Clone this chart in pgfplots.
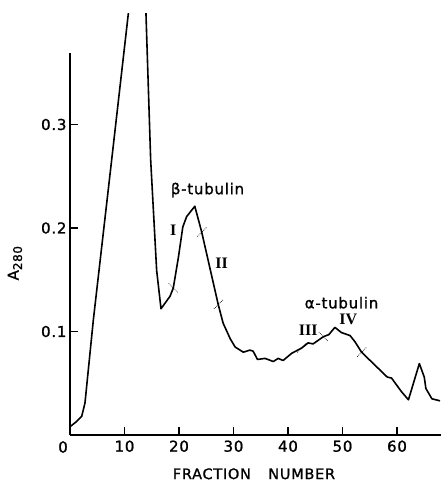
\documentclass[border=0pt]{standalone}
\usepackage{fontspec}
\setmainfont{DejaVu Sans}[LetterSpace=5, FakeBold=1.2]
\newfontfamily\numeral{Liberation Serif}
\usepackage{pgfplots}
\pgfplotsset{compat=1.18}

\pgfplotstableread{
x y
0.0 0.008
1.2 0.013
2.15 0.018
2.75 0.031
4.28 0.111
7.65 0.266
10.7 0.407
13.23 0.524
13.94 0.407
14.8 0.266
15.9 0.159
16.7 0.122
18.35 0.134
18.95 0.142
19.9 0.172
20.7 0.201
21.4 0.211
22.9 0.221
24.17 0.196
27.2 0.126
28.1 0.108
29.4 0.093
30.3 0.085
31.8 0.080
33.0 0.082
33.6 0.081
34.4 0.073
35.8 0.074
37.3 0.071
38.2 0.074
39.1 0.072
40.7 0.079
42.5 0.084
43.7 0.089
44.6 0.088
46.5 0.095
47.5 0.097
48.6 0.104
49.8 0.099
51.4 0.096
52.3 0.090
53.5 0.080
58.2 0.056
59.0 0.055
60.8 0.042
62.1 0.034
64.1 0.069
65.0 0.056
65.3 0.045
66.4 0.035
67.9 0.033
}\elution

% cut marks on the curve
\pgfplotstableread{
x y
24.17 0.196
27.2 0.126
42.5 0.084
53.5 0.080
}\cutsfwd
\pgfplotstableread{
x y
18.95 0.142
46.5 0.095
}\cutsback

\begin{document}
\begin{tikzpicture}
\begin{axis}[
    x=5.45pt, y=1035pt,
    xmin=0, xmax=68.07, ymin=0, ymax=0.407,
    enlargelimits=false,
    axis x line=bottom, axis y line=left,
    axis line style={-, line width=1.4pt},
    y axis line style={draw=none},
    xtick={10,20,...,60}, ytick={0.1,0.2,0.3},
    tick align=inside, major tick length=8pt,
    tick style={line width=1.3pt, black},
    clip mode=individual,
    scaled y ticks=false,
    yticklabel style={/pgf/number format/fixed, /pgf/number format/precision=1},
    /pgf/number format/assume math mode=true,
    ticklabel style={font=\fontsize{15}{15}\selectfont},
    xticklabel style={yshift=-2pt},
]
\addplot[black, line width=1.6pt, line join=round] table {\elution};
\addplot[only marks, mark=|, mark size=6.5pt,
    mark options={rotate=-45, densely dotted, line width=0.7pt, black}] table {\cutsfwd};
\addplot[only marks, mark=|, mark size=6.5pt,
    mark options={rotate=45, densely dotted, line width=0.7pt, black}] table {\cutsback};

\draw[line width=1.4pt] (axis cs:0,0) -- (axis cs:0,0.369);

\node[font=\fontsize{15}{15}\selectfont] at (axis cs:-1.28,-0.0116) {0};
\node[inner sep=0pt, font=\fontsize{14.5}{14.5}\selectfont] at (axis cs:33.76,-0.0375) {FRACTION\hspace{1.2em}NUMBER};
\node[rotate=90, inner sep=0pt, font=\fontsize{15}{15}\selectfont] at (axis cs:-10.1,0.166) {A\raisebox{-0.4ex}{\fontsize{12}{12}\selectfont 280}};

\node[font=\fontsize{15}{15}\selectfont] at (axis cs:25.23,0.2367) {β-tubulin};
\node[font=\fontsize{15}{15}\selectfont] at (axis cs:49.82,0.1278) {α-tubulin};
\node[font=\numeral\bfseries\fontsize{16}{16}\selectfont] at (axis cs:18.95,0.198) {I};
\node[font=\numeral\bfseries\fontsize{16}{16}\selectfont] at (axis cs:27.83,0.166) {II};
\node[font=\numeral\bfseries\fontsize{16}{16}\selectfont] at (axis cs:43.72,0.1014) {III};
\node[font=\numeral\bfseries\fontsize{16}{16}\selectfont] at (axis cs:51.06,0.1118) {IV};

\coordinate (bbl) at (axis cs:-12.844,-0.04638);
\coordinate (btr) at (axis cs:68.07,0.42029);
\end{axis}
\pgfresetboundingbox
\path[use as bounding box] (bbl) rectangle (btr);
\end{tikzpicture}
\end{document}
